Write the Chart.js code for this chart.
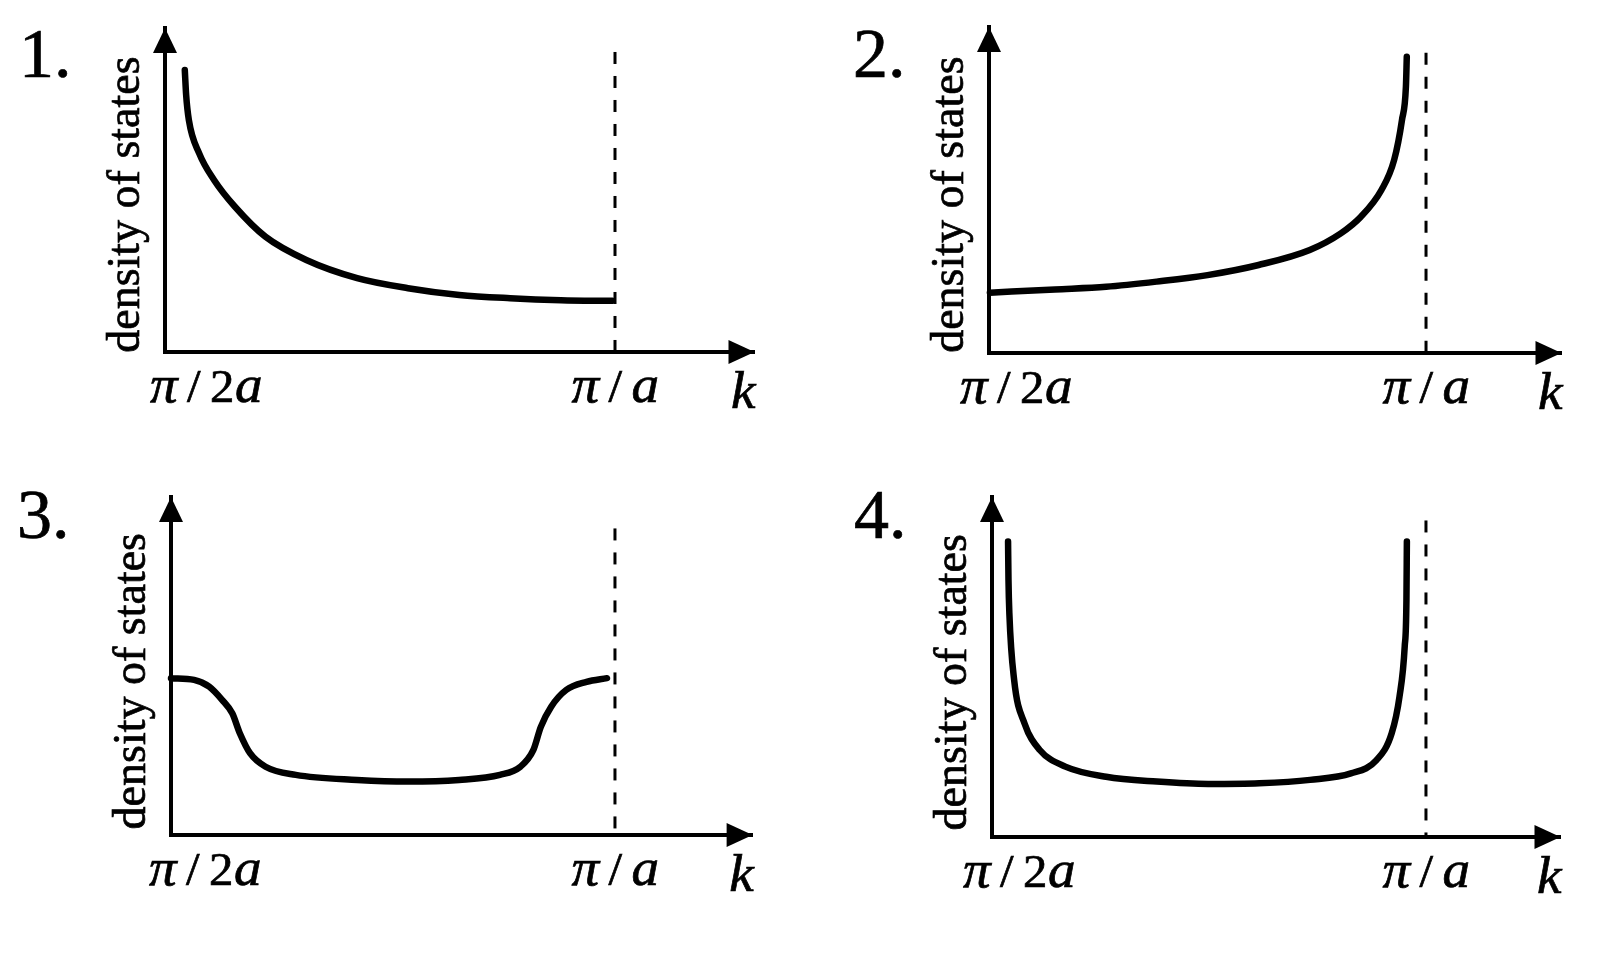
<!DOCTYPE html>
<html>
<head>
<meta charset="utf-8">
<script src="https://cdn.jsdelivr.net/npm/chart.js@4.4.1/dist/chart.umd.min.js"></script>
<style>
  html, body { margin: 0; padding: 0; background: #ffffff; }
  #wrap { position: relative; width: 1600px; height: 969px; overflow: hidden; background: #ffffff; }
  .q { position: absolute; }
</style>
</head>
<body>
<div id="wrap">
  <div class="q" style="left:0;top:0;width:800px;height:485px"><canvas id="c1" width="800" height="485"></canvas></div>
  <div class="q" style="left:800px;top:0;width:800px;height:485px"><canvas id="c2" width="800" height="485"></canvas></div>
  <div class="q" style="left:0;top:485px;width:800px;height:484px"><canvas id="c3" width="800" height="484"></canvas></div>
  <div class="q" style="left:800px;top:485px;width:800px;height:484px"><canvas id="c4" width="800" height="484"></canvas></div>
</div>
<script>
// ---------------- data ----------------
const panelLabels = ['1.', '2.', '3.', '4.'];
const yTitle = 'density of states';
const kTickLabels = ['π/2a', 'π/a'];   // at k = 0 (π/2a) and k = 1 (π/a)
const kTickValues = [0, 1];
const kAxisLabel = 'k';

// panel 1: decaying from π/2a
const k1   = [0.044, 0.047, 0.053, 0.076, 0.109, 0.155, 0.223, 0.314, 0.427, 0.540, 0.654, 0.767, 0.880, 0.994];
const dos1 = [87.0,  79.3,  71.6,  61.3,  53.1,  44.9,  35.6,  28.4,  22.8,  19.7,  17.6,  16.6,  16.0,  15.8];

// panel 2: rising toward π/a
const k2   = [0.002, 0.151, 0.268, 0.384, 0.500, 0.617, 0.734, 0.805, 0.851, 0.898, 0.927, 0.945, 0.954, 0.956];
const dos2 = [18.5,  19.5,  20.3,  21.9,  23.9,  27.0,  31.6,  36.7,  41.8,  50.0,  59.2,  71.5,  81.7,  90.9];

// panel 3: shoulders at both ends
const k3   = [0.000, 0.052, 0.086, 0.115, 0.138, 0.155, 0.178, 0.213, 0.281, 0.419, 0.534, 0.649, 0.741, 0.787, 0.816, 0.833, 0.856, 0.890, 0.936, 0.982];
const dos3 = [46.4,  45.9,  43.9,  40.0,  36.0,  30.1,  24.2,  20.2,  17.8,  16.3,  15.8,  16.3,  17.8,  20.2,  25.1,  32.0,  37.9,  42.9,  45.3,  46.4];

// panel 4: divergent at both ends
const k4   = [0.037, 0.038, 0.040, 0.051, 0.075, 0.110, 0.169, 0.263, 0.380, 0.498, 0.616, 0.733, 0.827, 0.886, 0.921, 0.939, 0.951, 0.955, 0.956];
const dos4 = [86.9,  75.6,  65.8,  46.2,  33.4,  25.6,  20.7,  17.7,  16.3,  15.6,  15.8,  16.8,  18.7,  22.6,  30.5,  41.3,  56.0,  69.7,  86.9];

// upper end of the dashed line at k = π/a, per panel
const dashTop = [92.6, 92.1, 90.7, 93.1];

// axis ranges
const kMax = 1.31;
const dosMax = 100;

// ---------------- layout / style (not data) ----------------
const layouts = [
  { pad: { left: 165, top: 28, right: 45.5, bottom: 133 }, tickShift: -15, lx: 19, ly: 77 },
  { pad: { left: 189, top: 27, right: 38.5, bottom: 132 }, tickShift: -29, lx: 53, ly: 77 },
  { pad: { left: 171, top: 12, right: 47.4, bottom: 134 }, tickShift: -22, lx: 17, ly: 53 },
  { pad: { left: 192, top: 12, right: 39.5, bottom: 132 }, tickShift: -29, lx: 54, ly: 53 }
];
const SERIF = '"Liberation Serif", "Times New Roman", serif';
const SX = 1.06; // horizontal stretch of the k-axis math labels
const TEXT_STROKE = 0.7; // slight weight so text matches the heavier original

function glyphStyle(ch) {
  if (ch === 'π') return { font: 'italic 52px ' + SERIF, adv: 37 };
  if (/[a-z]/.test(ch)) return { font: 'italic 52px ' + SERIF, adv: 27 };
  if (ch === '/') return { font: '46px ' + SERIF, adv: 23 };
  return { font: '46px ' + SERIF, adv: 25 };
}
function labelWidth(txt) {
  let w = 0;
  for (const ch of txt) w += glyphStyle(ch).adv;
  return w;
}
function heavyText(ctx, t, x, y) {
  ctx.fillText(t, x, y);
  ctx.lineWidth = TEXT_STROKE;
  ctx.strokeStyle = '#000';
  ctx.strokeText(t, x, y);
}
function drawMath(ctx, txt, x0, base) {
  let x = x0;
  for (const ch of txt) {
    const g = glyphStyle(ch);
    ctx.save();
    ctx.translate(x, base);
    ctx.scale(SX, 1);
    ctx.font = g.font;
    ctx.textAlign = 'left';
    ctx.textBaseline = 'alphabetic';
    heavyText(ctx, ch, 0, 0);
    ctx.restore();
    x += g.adv;
  }
}

const deco = {
  id: 'deco',
  afterDraw(chart, args, o) {
    const { ctx, chartArea: a, scales: { x, y } } = chart;
    const ax = x.getPixelForValue(0);
    const by = y.getPixelForValue(0);
    ctx.save();
    ctx.fillStyle = '#000';
    // arrow heads
    ctx.beginPath();
    ctx.moveTo(ax, a.top);
    ctx.lineTo(ax - 12, a.top + 25);
    ctx.lineTo(ax + 12, a.top + 25);
    ctx.closePath();
    ctx.fill();
    ctx.beginPath();
    ctx.moveTo(a.right, by);
    ctx.lineTo(a.right - 26, by - 12);
    ctx.lineTo(a.right - 26, by + 12);
    ctx.closePath();
    ctx.fill();
    // panel number
    ctx.font = '70px ' + SERIF;
    ctx.textAlign = 'left';
    ctx.textBaseline = 'alphabetic';
    heavyText(ctx, o.label, o.lx, o.ly);
    // y-axis title
    ctx.save();
    ctx.translate(ax - 26, y.getPixelForValue(45.5));
    ctx.rotate(-Math.PI / 2);
    ctx.font = '46px ' + SERIF;
    ctx.textAlign = 'center';
    heavyText(ctx, yTitle, 0, 0);
    ctx.restore();
    // k tick labels
    const base = by + 50;
    kTickValues.forEach((v, i) => {
      const txt = kTickLabels[i];
      const px = x.getPixelForValue(v);
      const x0 = i === 0 ? px + o.tickShift : px - labelWidth(txt) / 2;
      drawMath(ctx, txt, x0, base);
    });
    // axis letter k
    ctx.save();
    ctx.translate(a.right + 1, by + 56);
    ctx.scale(SX, 1);
    ctx.font = 'italic 52px ' + SERIF;
    ctx.textAlign = 'right';
    heavyText(ctx, kAxisLabel, 0, 0);
    ctx.restore();
    ctx.restore();
  }
};

const curves = [[k1, dos1], [k2, dos2], [k3, dos3], [k4, dos4]];

curves.forEach(([ks, ds], i) => {
  const L = layouts[i];
  const pts = ks.map((k, j) => ({ x: k, y: ds[j] }));
  new Chart(document.getElementById('c' + (i + 1)), {
    type: 'line',
    data: {
      datasets: [
        {
          data: [{ x: 1, y: dashTop[i] }, { x: 1, y: 0 }],
          borderColor: '#000',
          borderWidth: 3,
          borderDash: [12, 12],
          pointRadius: 0,
          tension: 0,
          clip: false
        },
        {
          data: pts,
          borderColor: '#000',
          borderWidth: 6.5,
          borderCapStyle: 'round',
          borderJoinStyle: 'round',
          cubicInterpolationMode: 'monotone',
          pointRadius: 0,
          clip: false
        }
      ]
    },
    options: {
      responsive: false,
      animation: false,
      devicePixelRatio: 1,
      layout: { padding: L.pad },
      plugins: {
        legend: { display: false },
        tooltip: { enabled: false },
        deco: { label: panelLabels[i], lx: L.lx, ly: L.ly, tickShift: L.tickShift }
      },
      events: [],
      scales: {
        x: {
          type: 'linear', min: 0, max: kMax,
          grid: { display: false, drawTicks: false },
          ticks: { display: false },
          border: { display: true, color: '#000', width: 4 },
          afterFit(s) { s.height = 0; }
        },
        y: {
          type: 'linear', min: 0, max: dosMax,
          grid: { display: false, drawTicks: false },
          ticks: { display: false },
          border: { display: true, color: '#000', width: 4 },
          afterFit(s) { s.width = 0; }
        }
      }
    },
    plugins: [deco]
  });
});
</script>
</body>
</html>
